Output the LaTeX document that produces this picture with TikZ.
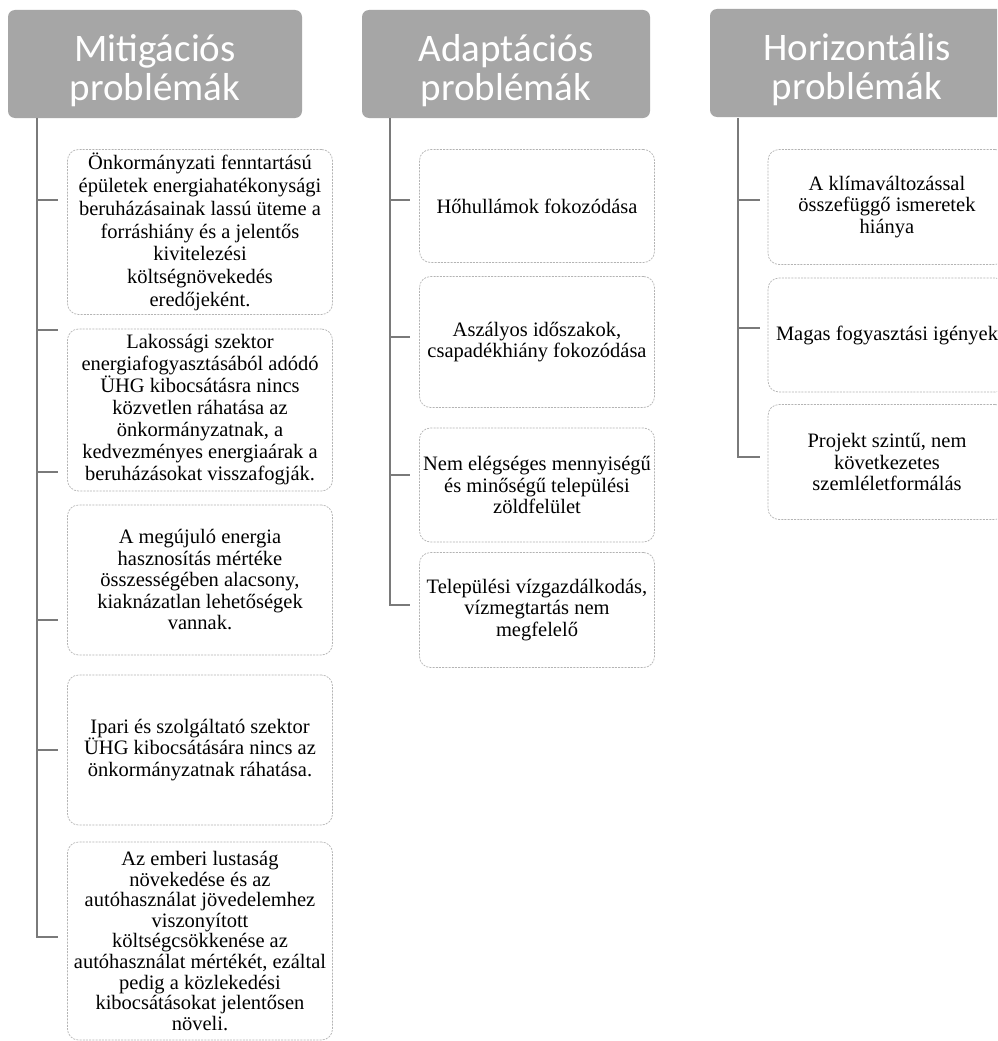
\documentclass[tikz,border=0pt]{standalone}
\usepackage{fontspec}
\setmainfont{Liberation Serif}
\newfontfamily\headfont{Carlito}
\usepackage{tikz}
\usetikzlibrary{positioning}

\definecolor{headgray}{HTML}{A6A6A6}
\definecolor{linegray}{HTML}{7A7A7A}
\definecolor{boxgray}{HTML}{B4B4B4}

\begin{document}
\begin{tikzpicture}[
  x=1pt, y=-1pt,
  head/.style={draw=none, rectangle, rounded corners=7pt, fill=headgray,
               minimum height=108pt, inner sep=0pt, align=center,
               text=white, font=\headfont\fontsize{39}{39}\selectfont},
  prob/.style={draw=boxgray, rectangle, rounded corners=11pt,
               dash pattern=on 2pt off 1.2pt, line width=0.7pt,
               inner sep=0pt, align=center,
               font=\fontsize{20.5}{21.5}\selectfont},
  conn/.style={draw=linegray, line width=1.6pt}
]
\clip (0,0) rectangle (997,1041);
\fill[white] (0,0) rectangle (997,1041);

% headers
\node[head, minimum width=294pt] (hd1) at (155,64) {\rule{0pt}{40pt}Mitigációs\\problémák};
\node[head, minimum width=288pt] (hd2) at (506,64) {\rule{0pt}{40pt}Adaptációs\\problémák};
\node[head, minimum width=294pt] (hd3) at (857,63) {\rule{0pt}{40pt}Horizontális\\problémák};

% mitigation column
\node[prob, minimum width=265pt, minimum height=165pt,
      font=\fontsize{20.5}{22.8}\selectfont] (m1) at (200,232)
  {Önkormányzati fenntartású\\épületek energiahatékonysági\\beruházásainak lassú üteme a\\forráshiány és a jelentős\\kivitelezési\\költségnövekedés\\eredőjeként.};
\node[prob, minimum width=265pt, minimum height=162pt,
      font=\fontsize{20.5}{22}\selectfont] (m2) at (200,410)
  {Lakossági szektor\\energiafogyasztásából adódó\\ÜHG kibocsátásra nincs\\közvetlen ráhatása az\\önkormányzatnak, a\\kedvezményes energiaárak a\\beruházásokat visszafogják.};
\node[prob, minimum width=265pt, minimum height=150pt] (m3) at (200,580)
  {A megújuló energia\\hasznosítás mértéke\\összességében alacsony,\\kiaknázatlan lehetőségek\\vannak.};
\node[prob, minimum width=265pt, minimum height=150pt] (m4) at (200,750)
  {Ipari és szolgáltató szektor\\ÜHG kibocsátására nincs az\\önkormányzatnak ráhatása.};
\node[prob, minimum width=265pt, minimum height=198pt,
      font=\fontsize{20.5}{20.6}\selectfont] (m5) at (200,941)
  {Az emberi lustaság\\növekedése és az\\autóhasználat jövedelemhez\\viszonyított\\költségcsökkenése az\\autóhasználat mértékét, ezáltal\\pedig a közlekedési\\kibocsátásokat jelentősen\\növeli.};

% adaptation column
\node[prob, minimum width=235pt, minimum height=113pt] (a1) at (537,206)
  {Hőhullámok fokozódása};
\node[prob, minimum width=235pt, minimum height=131pt] (a2) at (537,342)
  {Aszályos időszakok,\\csapadékhiány fokozódása};
\node[prob, minimum width=235pt, minimum height=114pt] (a3) at (537,485)
  {Nem elégséges mennyiségű\\és minőségű települési\\zöldfelület};
\node[prob, minimum width=235pt, minimum height=115pt] (a4) at (537,610)
  {Települési vízgazdálkodás,\\vízmegtartás nem\\megfelelő};

% horizontal column
\node[prob, minimum width=238pt, minimum height=115pt] (h1) at (887,207)
  {A klímaváltozással\\összefüggő ismeretek\\hiánya};
\node[prob, minimum width=238pt, minimum height=114pt] (h2) at (887,335)
  {Magas fogyasztási igények};
\node[prob, minimum width=238pt, minimum height=115pt] (h3) at (887,462)
  {Projekt szintű, nem\\következetes\\szemléletformálás};

% spines
\coordinate (s1) at (37,118);
\coordinate (s2) at (390,118);
\coordinate (s3) at (738,118);
\foreach \y [count=\i] in {200,330,472,620,750,937}
  \coordinate (t1\i) at (58,\y);
\foreach \y [count=\i] in {200,337,475,605}
  \coordinate (t2\i) at (410,\y);
\foreach \y [count=\i] in {200,328,457}
  \coordinate (t3\i) at (760,\y);

\draw[conn] (s1) |- (t16);
\foreach \i in {1,...,5} \draw[conn] (s1 |- t1\i) -- (t1\i);
\draw[conn] (s2) |- (t24);
\foreach \i in {1,...,3} \draw[conn] (s2 |- t2\i) -- (t2\i);
\draw[conn] (s3) |- (t33);
\foreach \i in {1,2} \draw[conn] (s3 |- t3\i) -- (t3\i);
\end{tikzpicture}
\end{document}
